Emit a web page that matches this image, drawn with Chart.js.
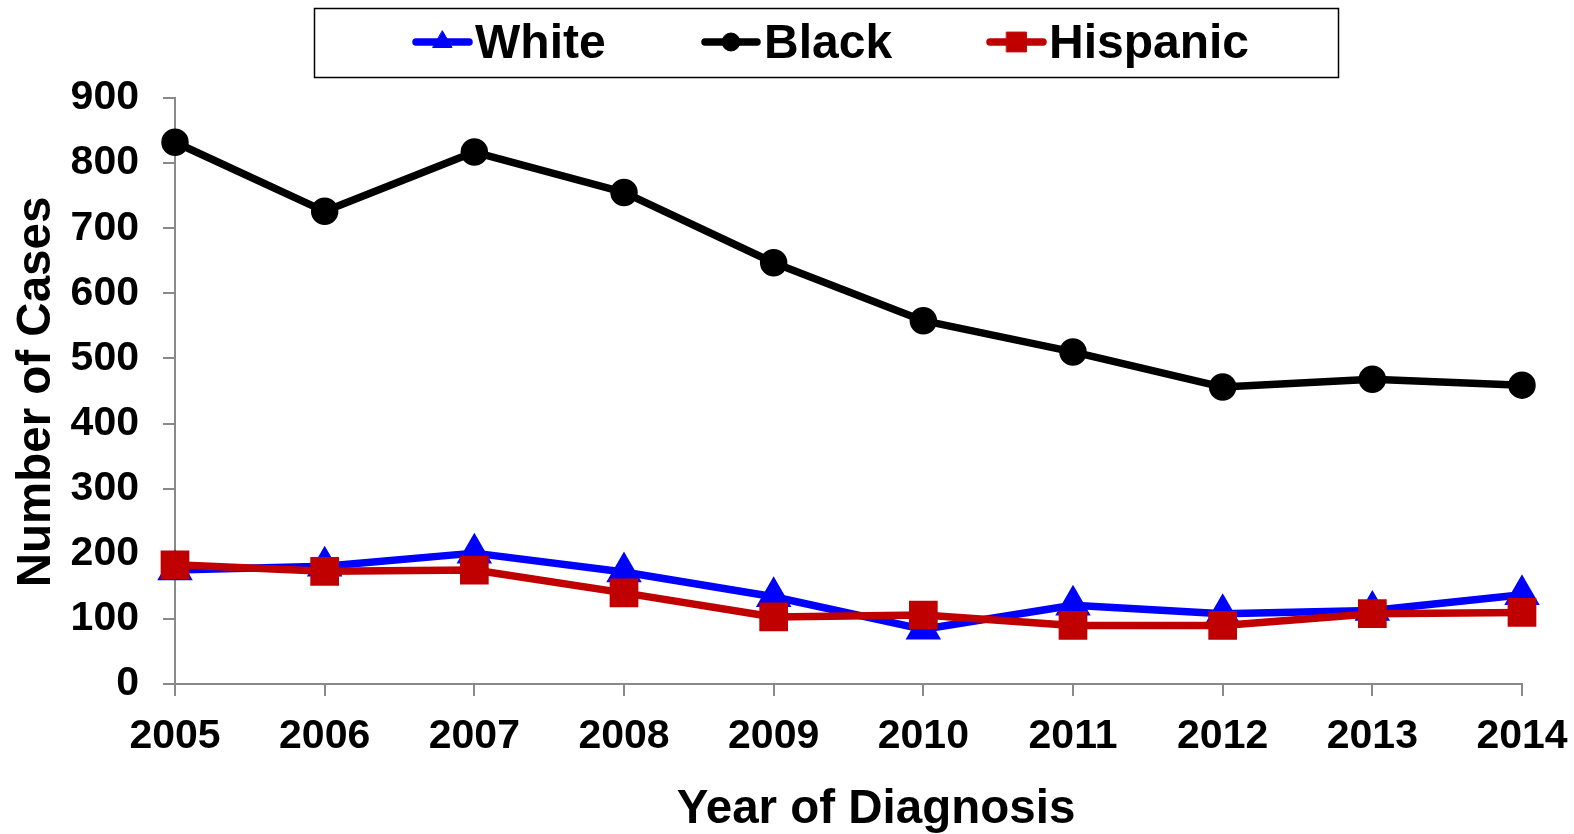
<!DOCTYPE html>
<html>
<head>
<meta charset="utf-8">
<script src="https://cdn.jsdelivr.net/npm/chart.js@4/dist/chart.umd.min.js"></script>
<style>
  html, body { margin: 0; padding: 0; background: #fff; }
  #wrap { width: 1574px; height: 834px; }
</style>
</head>
<body>
<div id="wrap"><canvas id="chart" width="1574" height="834"></canvas></div>
<script>
const years = ["2005", "2006", "2007", "2008", "2009", "2010", "2011", "2012", "2013", "2014"];
const white = [175, 181, 201, 172, 134, 84, 121, 108, 113, 137];
const black = [832, 726, 817, 755, 647, 558, 510, 456, 468, 459];
const hispanic = [183, 173, 175, 140, 103, 106, 90, 90, 108, 110];
const yTicks = [0, 100, 200, 300, 400, 500, 600, 700, 800, 900];
const xTitle = "Year of Diagnosis";
const yTitle = "Number of Cases";

const FONT = "'Liberation Sans', Arial, sans-serif";
const AXIS_GRAY = "#898989";

// legend box + axis titles, drawn by hand to sit where the original puts them
const extras = {
  id: "extras",
  afterDraw(chart) {
    const ctx = chart.ctx;
    ctx.save();
    ctx.strokeStyle = "#000";
    ctx.lineWidth = 1.5;
    ctx.strokeRect(314.5, 8.5, 1024, 69);

    const items = [
      { ds: 0, x1: 413, x2: 472, tx: 475, r: 11 },
      { ds: 1, x1: 702, x2: 760, tx: 764, r: 9 },
      { ds: 2, x1: 987, x2: 1046, tx: 1049, r: 14 }
    ];
    const cy = 42;
    items.forEach(it => {
      const d = chart.data.datasets[it.ds];
      ctx.strokeStyle = d.borderColor;
      ctx.lineWidth = 7.5;
      ctx.lineCap = "round";
      ctx.beginPath();
      ctx.moveTo(it.x1 + 3, cy);
      ctx.lineTo(it.x2 - 3, cy);
      ctx.stroke();
      ctx.fillStyle = d.pointBackgroundColor;
      ctx.strokeStyle = d.pointBorderColor;
      ctx.lineWidth = 1;
      Chart.helpers.drawPoint(ctx, {
        pointStyle: d.pointStyle,
        radius: it.r,
        borderWidth: 1,
        rotation: 0
      }, (it.x1 + it.x2) / 2, cy);
      ctx.fillStyle = "#000";
      ctx.font = "bold 48px " + FONT;
      ctx.textBaseline = "alphabetic";
      ctx.textAlign = "left";
      ctx.fillText(d.label, it.tx, 58);
    });

    // x title
    ctx.fillStyle = "#000";
    ctx.font = "bold 47.5px " + FONT;
    ctx.textAlign = "center";
    ctx.textBaseline = "alphabetic";
    ctx.fillText(xTitle, 876, 823);

    // y title
    ctx.save();
    ctx.translate(50, 392);
    ctx.rotate(-Math.PI / 2);
    ctx.fillText(yTitle, 0, 0);
    ctx.restore();

    ctx.restore();
  }
};

new Chart(document.getElementById("chart"), {
  type: "line",
  data: {
    labels: years,
    datasets: [
      {
        label: "White",
        data: white,
        borderColor: "#0000FF",
        backgroundColor: "#0000FF",
        pointBackgroundColor: "#0000FF",
        pointBorderColor: "#0000FF",
        pointStyle: "triangle",
        pointRadius: 13,
        borderWidth: 7.5,
        order: 1
      },
      {
        label: "Black",
        data: black,
        borderColor: "#000000",
        backgroundColor: "#000000",
        pointBackgroundColor: "#000000",
        pointBorderColor: "#000000",
        pointStyle: "circle",
        pointRadius: 10,
        borderWidth: 7.5,
        order: 2
      },
      {
        label: "Hispanic",
        data: hispanic,
        borderColor: "#C00000",
        backgroundColor: "#C00000",
        pointBackgroundColor: "#C00000",
        pointBorderColor: "#C00000",
        pointStyle: "rect",
        pointRadius: 15,
        borderWidth: 7.5,
        order: 0
      }
    ]
  },
  options: {
    responsive: false,
    animation: false,
    layout: { padding: { top: 98, right: 52, bottom: 0, left: 0 } },
    plugins: {
      legend: { display: false },
      tooltip: { enabled: false }
    },
    elements: {
      line: { tension: 0, borderJoinStyle: "round" },
      point: { borderWidth: 1, hoverRadius: 10 }
    },
    scales: {
      x: {
        offset: false,
        afterFit(scale) {
          scale.height = 150;
          scale.paddingLeft = 0;
          scale.paddingRight = 0;
        },
        grid: {
          drawOnChartArea: false,
          color: AXIS_GRAY,
          lineWidth: 2,
          tickLength: 12
        },
        border: { color: AXIS_GRAY, width: 2 },
        ticks: {
          color: "#000",
          font: { family: FONT, size: 41, weight: "bold" },
          padding: 16,
          maxRotation: 0,
          autoSkip: false
        },
        title: { display: false }
      },
      y: {
        min: yTicks[0],
        max: yTicks[yTicks.length - 1],
        afterFit(scale) { scale.width = 175; },
        afterBuildTicks(scale) { scale.ticks = yTicks.map(v => ({ value: v })); },
        grid: {
          drawOnChartArea: false,
          color: AXIS_GRAY,
          lineWidth: 2,
          tickLength: 12
        },
        border: { color: AXIS_GRAY, width: 2 },
        ticks: {
          color: "#000",
          font: { family: FONT, size: 41, weight: "bold" },
          padding: 24
        },
        title: { display: false }
      }
    }
  },
  plugins: [extras]
});
</script>
</body>
</html>
